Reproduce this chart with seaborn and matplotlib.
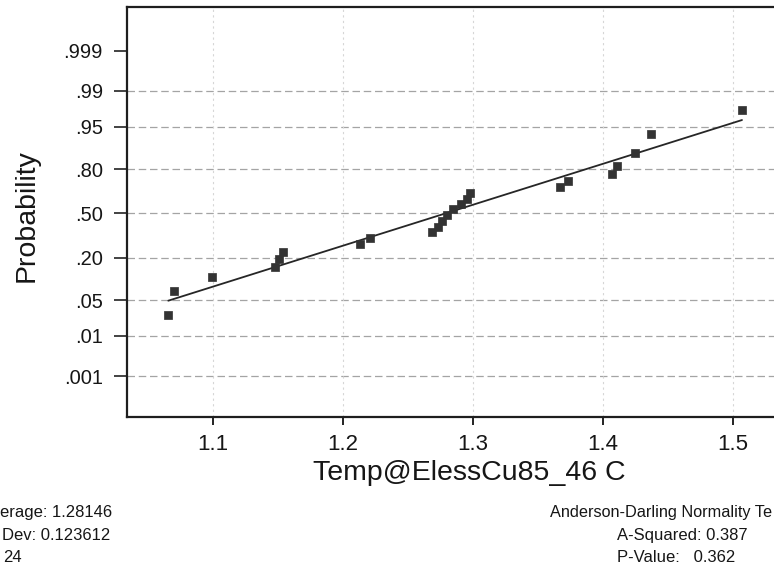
import numpy as np
import pandas as pd
import matplotlib
matplotlib.use("Agg")
import matplotlib.pyplot as plt
import seaborn as sns
from statistics import NormalDist
from matplotlib.ticker import NullLocator

# ---- data ----
temps = [1.0660, 1.0704, 1.0996, 1.1480, 1.1510, 1.1540, 1.2132, 1.2209,
         1.2686, 1.2737, 1.2768, 1.2806, 1.2848, 1.2909, 1.2955, 1.2981,
         1.3673, 1.3732, 1.4075, 1.4114, 1.4250, 1.4371, 1.5073]
probs = [0.0266, 0.0697, 0.1127, 0.156, 0.195, 0.234, 0.281, 0.320,
         0.364, 0.400, 0.445, 0.488, 0.531, 0.569, 0.610, 0.649,
         0.694, 0.7325, 0.774, 0.816, 0.875, 0.934, 0.975]
line_temps = [1.0660, 1.5073]
line_probs = [0.0488, 0.9618]

prob_ticks = [0.001, 0.01, 0.05, 0.20, 0.50, 0.80, 0.95, 0.99, 0.999]
prob_labels = [".001", ".01", ".05", ".20", ".50", ".80", ".95", ".99", ".999"]
x_ticks = [1.1, 1.2, 1.3, 1.4, 1.5]
x_labels = ["1.1", "1.2", "1.3", "1.4", "1.5"]
x_title = "Temp@ElessCu85_46 C"
y_title = "Probability"
# the reference picture is cropped at its left and right edges; these are the visible parts
stats_left = ["erage: 1.28146", "Dev: 0.123612", "24"]
stats_right = ["Anderson-Darling Normality Te", "A-Squared: 0.387", "P-Value:   0.362"]

pts = pd.DataFrame({"temp": temps, "prob": probs})
fit = pd.DataFrame({"temp": line_temps, "prob": line_probs})

# ---- normal probability scale ----
ND = NormalDist()

def _fwd1(p):
    if np.isnan(p):
        return np.nan
    p = min(max(p, 1e-15), 1 - 1e-15)
    return ND.inv_cdf(p)

def _inv1(z):
    if np.isnan(z):
        return np.nan
    return ND.cdf(z)

fwd = np.vectorize(_fwd1, otypes=[float])
inv = np.vectorize(_inv1, otypes=[float])

sns.set_theme(style="white")
plt.rcParams["font.family"] = ["Liberation Sans", "DejaVu Sans"]

TXT = "#161616"
W, H = 774, 568
fig = plt.figure(figsize=(W / 100, H / 100), dpi=100)
ax = fig.add_axes([127 / W, 1 - 416.7 / H, 685 / W, 409.4 / H])

sns.lineplot(data=fit, x="temp", y="prob", ax=ax, color="#262626",
             linewidth=1.3, sort=False, estimator=None)
sns.scatterplot(data=pts, x="temp", y="prob", ax=ax, marker="s", s=30,
                color="#333333", edgecolor="#333333", linewidth=0.5, zorder=5)

ax.set_yscale("function", functions=(fwd, inv))
ax.set_ylim(ND.cdf(-3.858), ND.cdf(3.911))
ax.set_xlim(1.03423, 1.56115)

ax.set_yticks(prob_ticks)
ax.set_yticklabels(prob_labels)
ax.yaxis.set_minor_locator(NullLocator())
ax.set_xticks(x_ticks)
ax.set_xticklabels(x_labels)

ax.tick_params(axis="y", which="major", left=True, direction="out", length=9.4,
               width=1.2, pad=8.0, labelsize=14.5, color="#222222", labelcolor=TXT)
ax.tick_params(axis="x", which="major", bottom=True, direction="out", length=6,
               width=1.4, pad=6.5, labelsize=16, color="#222222", labelcolor=TXT)

for side in ["left", "bottom", "top", "right"]:
    ax.spines[side].set_color("#1e1e1e")
    ax.spines[side].set_linewidth(1.6)

# grid lines
ax.grid(False)
for p in prob_ticks[:-1]:
    ax.axhline(p, color="#a4a4a4", linewidth=0.9, linestyle=(0, (6, 3)), zorder=0)
for xv in x_ticks:
    ax.axvline(xv, color="#d6d6d6", linewidth=0.8, linestyle=(0, (2, 3)), zorder=0)

ax.set_xlabel(x_title, fontsize=20.5, color=TXT)
ax.xaxis.label.set_va("baseline")
ax.xaxis.set_label_coords((469.5 - 127) / 685, (416.7 - 480) / 409.4)
ax.set_ylabel(y_title, fontsize=20.5, color=TXT)
ax.yaxis.label.set_va("center")
ax.yaxis.set_label_coords((27 - 127) / 685, (416.7 - 216) / 409.4)

left_x = [0.5, 1.5, 3]
for txt, xl, yc in zip(stats_left, left_x, [513, 535.5, 558]):
    fig.text(xl / W, 1 - yc / H, txt, fontsize=12, color=TXT,
             ha="left", va="center")
fig.text(772.5 / W, 1 - 513 / H, stats_right[0], fontsize=11.7, color=TXT,
         ha="right", va="center")
for txt, yc in zip(stats_right[1:], [535.5, 558]):
    fig.text(617 / W, 1 - yc / H, txt, fontsize=12, color=TXT,
             ha="left", va="center")

fig.savefig("out.png", dpi=100)
